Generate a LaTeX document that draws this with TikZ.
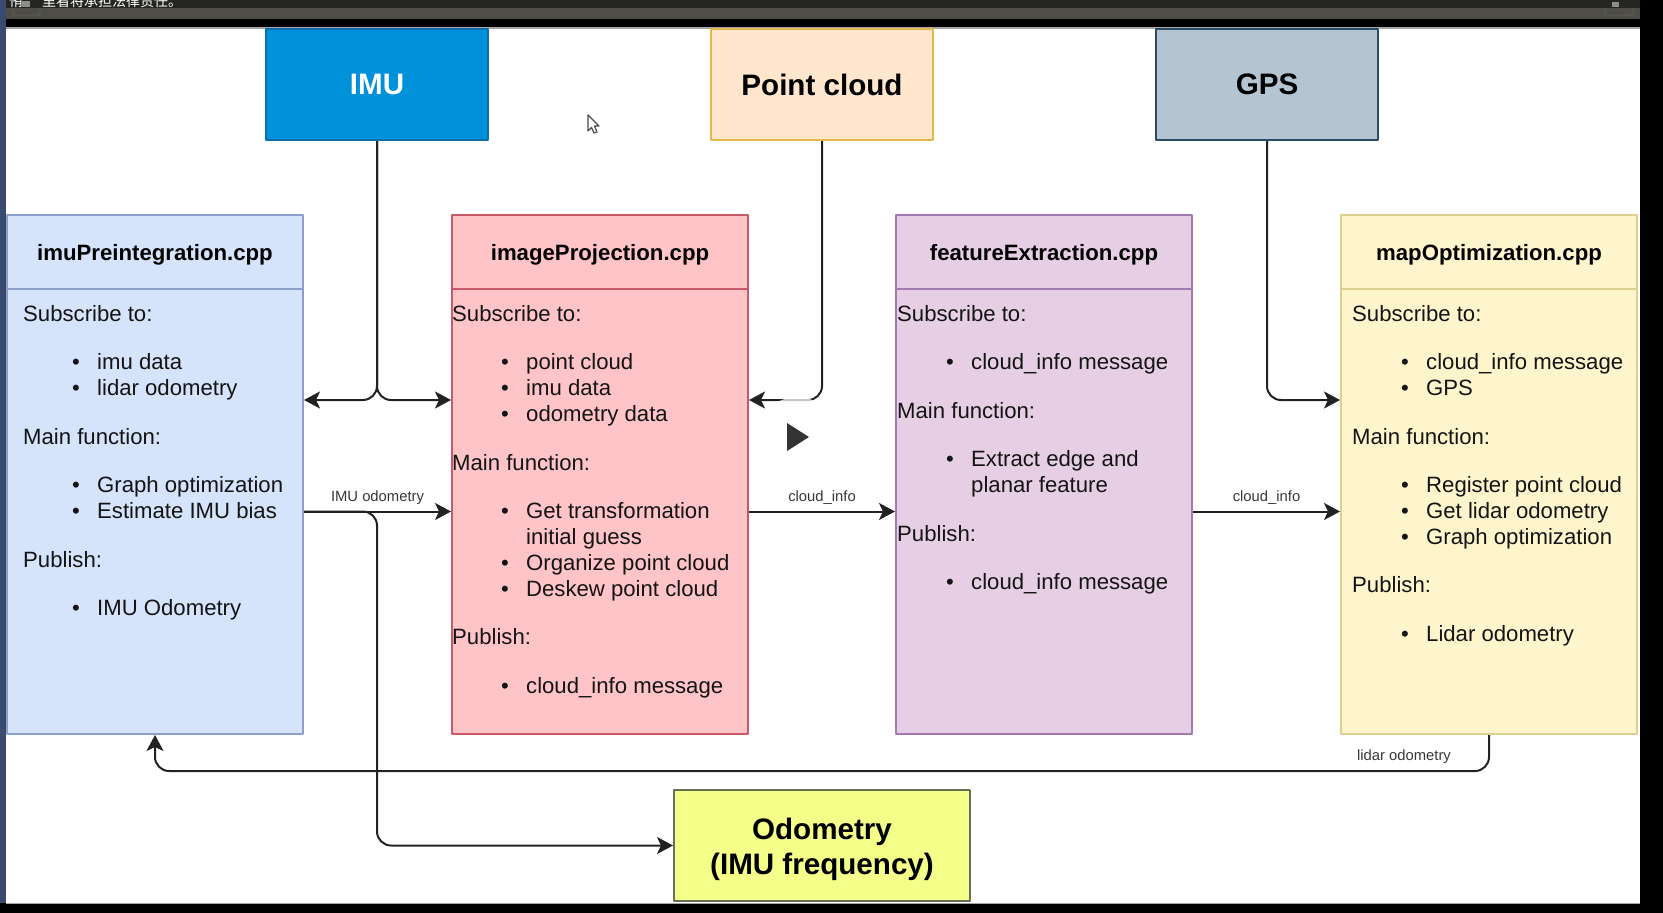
\documentclass[tikz,border=0pt]{standalone}
\usepackage{fontspec}
\setmainfont{Liberation Sans}
\newfontfamily\cjkfont{Noto Sans CJK SC}
\usetikzlibrary{arrows.meta}
\definecolor{imuF}{HTML}{0091DB} \definecolor{imuD}{HTML}{0A6FAF}
\definecolor{ptF}{HTML}{FFE6CC} \definecolor{ptD}{HTML}{E6B84A}
\definecolor{gpsF}{HTML}{B5C4D1} \definecolor{gpsD}{HTML}{2B4A64}
\definecolor{preF}{HTML}{D5E3FB} \definecolor{preD}{HTML}{8A9FCB}
\definecolor{projF}{HTML}{FFC4C8} \definecolor{projD}{HTML}{C85A68}
\definecolor{featF}{HTML}{E6CFE5} \definecolor{featD}{HTML}{A07AB0}
\definecolor{mapF}{HTML}{FFF5CC} \definecolor{mapD}{HTML}{DCD08C}
\definecolor{odomF}{HTML}{F3FF88} \definecolor{odomD}{HTML}{6A6E55}
\definecolor{inkc}{HTML}{222222}
\definecolor{stripc}{HTML}{3A4A6E} \definecolor{barA}{HTML}{252522} \definecolor{barB}{HTML}{4E4E46}
\newcommand{\itm}[1]{\hspace*{49pt}\makebox[25pt][l]{\textbullet}#1}
\newcommand{\itmc}[1]{\hspace*{74pt}#1}
\begin{document}
\begin{tikzpicture}[x=1pt, y=-1pt, line join=round, >={Stealth[length=16pt,width=17pt,inset=4pt]},
  srcbox/.style={draw, line width=2pt, inner sep=0pt, minimum width=222pt, minimum height=111pt, anchor=north west, font=\fontsize{29.6}{35}\selectfont\bfseries},
  headbox/.style={draw, line width=2pt, inner sep=0pt, minimum width=296pt, minimum height=74pt, anchor=north west, font=\fontsize{22.2}{26}\selectfont\bfseries},
  bodybox/.style={draw, line width=2pt, inner sep=0pt, minimum width=296pt, minimum height=445pt, anchor=north west},
  bodytext/.style={inner sep=0pt, anchor=north west, align=left, text=black!92, font=\fontsize{22.15}{25.9}\selectfont},
  flow/.style={->, line width=2pt, draw=inkc, rounded corners=14pt},
  edgelabel/.style={inner sep=0pt, text=black!78, font=\fontsize{14.8}{17}\selectfont}]
\useasboundingbox (0,0) rectangle (1663,913);
\fill[black] (0,0) rectangle (1663,913);
\fill[white] (5.5,28) rectangle (1640,903);
\fill[black!35] (5.5,27) rectangle (1640,28.5);
\fill[black!35] (5.5,902.5) rectangle (1640,904);
\fill[barB] (5.5,8) rectangle (1640,19);
\fill[barA] (5.5,0) rectangle (1640,8);
\fill[stripc] (0,0) rectangle (5.5,903);
\draw[black!60, line width=0.5pt, rounded corners=2pt] (13,8) -- (13,15) -- (40,15) -- (40,8);
\draw[black!60, line width=0.5pt, rounded corners=2pt] (1605,8) -- (1605,15) -- (1633,15) -- (1633,8);
\fill[black!45] (1612,2) rectangle (1619,7);
\fill[black!45] (22,1) rectangle (30,7);
\begin{scope}
\clip (5.5,0) rectangle (1640,8);
\node[inner sep=0pt, anchor=base west, text=white, font=\fontsize{14}{16}\selectfont\cjkfont] (noticeA) at (9,6) {侑};
\node[inner sep=0pt, anchor=base west, text=white, font=\fontsize{14}{16}\selectfont\cjkfont] (notice) at (42,6) {里看将承担法律责任。};
\end{scope}

\node[srcbox, fill=imuF, draw=imuD, text=white] (imu) at (265,28) {IMU};
\node[srcbox, fill=ptF, draw=ptD] (pointcloud) at (710,28) {Point cloud};
\node[srcbox, fill=gpsF, draw=gpsD] (gps) at (1155,28) {GPS};

\foreach \nm/\x/\fc/\dc/\lbl in {imuPre/6/preF/preD/imuPreintegration.cpp, imageProj/451/projF/projD/imageProjection.cpp, featureExt/895/featF/featD/featureExtraction.cpp, mapOpt/1340/mapF/mapD/mapOptimization.cpp}{
\node[headbox, fill=\fc, draw=\dc, text height=16pt, text depth=-2pt] (\nm Head) at (\x,214) {\lbl};
\node[bodybox, fill=\fc, draw=\dc] (\nm) at (\x,288) {};
}

\node[bodytext] (imuPreText) at (23,305) {Subscribe to:\\[22.6pt]
\itm{imu data}\\ \itm{lidar odometry}\\[22.6pt]
Main function:\\[22.6pt]
\itm{Graph optimization}\\ \itm{Estimate IMU bias}\\[22.6pt]
Publish:\\[22.6pt]
\itm{IMU Odometry}};
\node[bodytext] (imageProjText) at (452,305) {Subscribe to:\\[22.6pt]
\itm{point cloud}\\ \itm{imu data}\\ \itm{odometry data}\\[22.6pt]
Main function:\\[22.6pt]
\itm{Get transformation}\\ \itmc{initial guess}\\ \itm{Organize point cloud}\\ \itm{Deskew point cloud}\\[22.6pt]
Publish:\\[22.6pt]
\itm{cloud\_info message}};
\node[bodytext] (featureExtText) at (897,305) {Subscribe to:\\[22.6pt]
\itm{cloud\_info message}\\[22.6pt]
Main function:\\[22.6pt]
\itm{Extract edge and}\\ \itmc{planar feature}\\[22.6pt]
Publish:\\[22.6pt]
\itm{cloud\_info message}};
\node[bodytext] (mapOptText) at (1352,305) {Subscribe to:\\[22.6pt]
\itm{cloud\_info message}\\ \itm{GPS}\\[22.6pt]
Main function:\\[22.6pt]
\itm{Register point cloud}\\ \itm{Get lidar odometry}\\ \itm{Graph optimization}\\[22.6pt]
Publish:\\[22.6pt]
\itm{Lidar odometry}};

\node[draw=odomD, fill=odomF, line width=2pt, inner sep=0pt, minimum width=296pt, minimum height=111pt, anchor=north west, align=center, font=\fontsize{29.6}{35}\selectfont\bfseries] (odom) at (673,789) {\rule{0pt}{30pt}Odometry\\(IMU frequency)};

\coordinate (inY) at (0,400);
\coordinate (backY) at (0,771);
\draw[flow] (imu.south) |- (imuPre.east |- inY);
\draw[flow] (imu.south) |- (imageProj.west |- inY);
\draw[flow] (pointcloud.south) |- (imageProj.east |- inY);
\draw[flow] (gps.south) |- (mapOpt.west |- inY);
\draw[flow] (imuPre.east) -- node[edgelabel, above=6pt] (imuOdomLabel) {IMU odometry} (imageProj.west);
\draw[flow] (imageProj.east) -- node[edgelabel, above=6pt] (cloudLabelA) {cloud\_info} (featureExt.west);
\draw[flow] (featureExt.east) -- node[edgelabel, above=6pt] (cloudLabelB) {cloud\_info} (mapOpt.west);
\draw[flow] (imuPre.east) -- (imu.south |- imuPre.east) |- (odom.west);
\draw[flow] (mapOpt.south) |- (imuPre.south |- backY) -- (imuPre.south);
\node[edgelabel] (lidarLabel) at (1404,757) {lidar odometry};

\fill[white, opacity=0.75] (797,437) circle (40);
\fill[black!80] (787,423) -- (809,437) -- (787,451) -- cycle;
\draw[fill=white, draw=black!70, line width=1.2pt] (588,115) -- (588,131) -- (591.5,127.5) -- (594,133) -- (597,132) -- (594.5,126) -- (599,126) -- cycle;
\end{tikzpicture}
\end{document}
